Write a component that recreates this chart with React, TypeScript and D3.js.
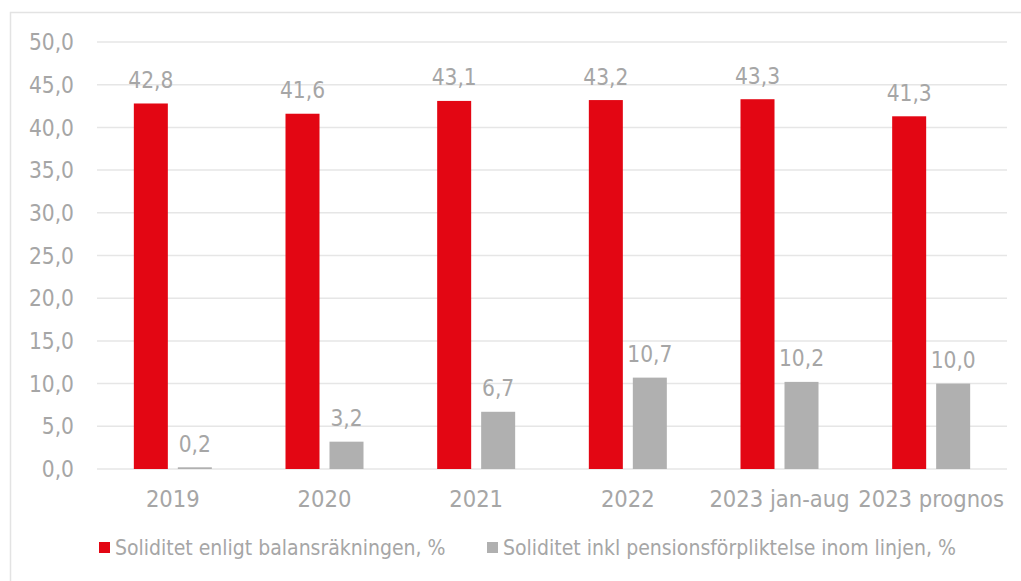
import React from "react";
import * as d3 from "d3";

const categories = ["2019", "2020", "2021", "2022", "2023 jan-aug", "2023 prognos"];
const seriesNames = [
  "Soliditet enligt balansräkningen, %",
  "Soliditet inkl pensionsförpliktelse inom linjen, %",
];
const soliditetBalans = [42.8, 41.6, 43.1, 43.2, 43.3, 41.3];
const soliditetPension = [0.2, 3.2, 6.7, 10.7, 10.2, 10.0];
const yTicks = [0, 5, 10, 15, 20, 25, 30, 35, 40, 45, 50];
const colors = ["#E30613", "#B0B0B0"];

const W = 1021;
const H = 581;
const FONT = "'DejaVu Sans Condensed', 'DejaVu Sans', sans-serif";
const TEXT = "#A6A6A6";

export default function App() {
  const left = 97;
  const right = 1007;
  const top = 42;
  const bottom = 469;
  const x = d3.scaleBand<string>().domain(categories).range([left, right]);
  const y = d3.scaleLinear().domain([0, 50]).range([bottom, top]);
  const inner = d3.scaleBand<number>().domain([0, 1]).range([-39, 39]).paddingInner(0.227).paddingOuter(0);
  const fmt = (v: number) => v.toFixed(1).replace(".", ",");
  const series = [soliditetBalans, soliditetPension];

  return (
    <svg width={W} height={H} style={{ position: "absolute", left: 0, top: 0, background: "#fff" }} fontFamily={FONT}>
      <rect x={10.5} y={12.5} width={W + 10} height={H + 10} fill="#fff" stroke="#E3E3E3" strokeWidth={1.5} />
      {yTicks.map((t) => (
        <g key={t}>
          <line x1={left} x2={right} y1={y(t)} y2={y(t)} stroke="#E6E6E6" strokeWidth={1.5} />
          <text x={74} y={y(t)} dy="0.36em" textAnchor="end" fontSize={22.5} fill={TEXT}>
            {fmt(t)}
          </text>
        </g>
      ))}
      {categories.map((c, i) => (
        <g key={c}>
          {series.map((s, k) => {
            const bx = (x(c) as number) + x.bandwidth() / 2 + (inner(k) as number);
            const bw = inner.bandwidth();
            return (
              <g key={k}>
                <rect x={bx} y={y(s[i])} width={bw} height={bottom - y(s[i])} fill={colors[k]} />
                <text x={bx + bw / 2} y={y(s[i]) - 15.5} textAnchor="middle" fontSize={22.5} fill={TEXT}>
                  {fmt(s[i])}
                </text>
              </g>
            );
          })}
          <text x={(x(c) as number) + x.bandwidth() / 2} y={507} textAnchor="middle" fontSize={23.5} fill={TEXT}>
            {c}
          </text>
        </g>
      ))}
      {seriesNames.map((n, k) => {
        const lx = k === 0 ? 99 : 487;
        return (
          <g key={n}>
            <rect x={lx} y={542} width={11} height={11} fill={colors[k]} />
            <text x={lx + 16} y={555} fontSize={21} fill={TEXT}>
              {n}
            </text>
          </g>
        );
      })}
    </svg>
  );
}
